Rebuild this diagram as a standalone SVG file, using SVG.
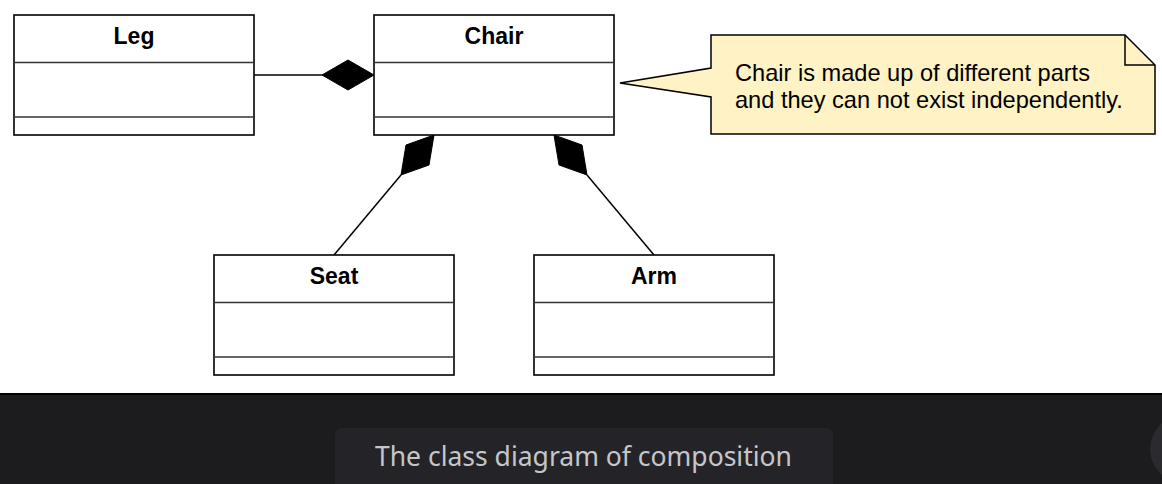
<svg xmlns="http://www.w3.org/2000/svg" width="1162" height="484" viewBox="0 0 1162 484">
<style>
.box{fill:#fff;stroke:#000;stroke-width:1.6}
.div{stroke:#333;stroke-width:1.3}
.title{font-family:"Liberation Sans",Arial,sans-serif;font-weight:bold;font-size:23px;fill:#000;text-anchor:middle}
.note{font-family:"Liberation Sans",Arial,sans-serif;font-size:23.6px;fill:#000}
.conn{stroke:#000;stroke-width:1.5;fill:none}
.dia{fill:#000;stroke:#000;stroke-width:1}
</style>
<rect width="1162" height="484" fill="#fff"/>
<g id="connectors">
<line class="conn" x1="254" y1="75" x2="322" y2="75"/>
<polygon class="dia" points="374,75 348,60 322,75 348,90"/>
<line class="conn" x1="334" y1="255" x2="401" y2="175"/>
<polygon class="dia" points="434,135 406,145 401,175 429,165"/>
<line class="conn" x1="654" y1="255" x2="587" y2="175"/>
<polygon class="dia" points="554,135 582,145 587,175 559,165"/>
</g>
<g id="leg">
<rect class="box" x="14" y="15" width="240" height="120"/>
<line class="div" x1="14" y1="62.5" x2="253" y2="62.5"/>
<line class="div" x1="14" y1="117" x2="253" y2="117"/>
<text class="title" x="134" y="44">Leg</text>
</g>
<g id="chair">
<rect class="box" x="374" y="15" width="240" height="120"/>
<line class="div" x1="374" y1="62.5" x2="613" y2="62.5"/>
<line class="div" x1="374" y1="117" x2="613" y2="117"/>
<text class="title" x="494" y="44">Chair</text>
</g>
<g id="seat">
<rect class="box" x="214" y="255" width="240" height="120"/>
<line class="div" x1="214" y1="302.5" x2="453" y2="302.5"/>
<line class="div" x1="214" y1="357" x2="453" y2="357"/>
<text class="title" x="334" y="284">Seat</text>
</g>
<g id="arm">
<rect class="box" x="534" y="255" width="240" height="120"/>
<line class="div" x1="534" y1="302.5" x2="773" y2="302.5"/>
<line class="div" x1="534" y1="357" x2="773" y2="357"/>
<text class="title" x="654" y="284">Arm</text>
</g>
<g id="note">
<path d="M711,35 H1125 L1155,65 V134 H711 V97 L620,83 L711,68 Z" fill="#fff2c4" stroke="#000" stroke-width="1.5"/>
<path d="M1125,35 V65 H1155" fill="none" stroke="#000" stroke-width="1.5"/>
<text class="note" x="735" y="81">Chair is made up of different parts</text>
<text class="note" x="735" y="108">and they can not exist independently.</text>
</g>
<g id="caption-bar">
<rect x="0" y="394" width="1162" height="90" fill="#1c1c1e"/>
<line x1="0" y1="394" x2="1162" y2="394" stroke="#000" stroke-width="2"/>
<rect x="335" y="428" width="498" height="70" rx="7" fill="#242428"/>
<text x="375" y="466" font-family="'Noto Sans','Open Sans',sans-serif" font-size="27" fill="#c6c6c8" textLength="417" lengthAdjust="spacingAndGlyphs">The class diagram of composition</text>
<circle cx="1184" cy="449" r="34" fill="#2a2a2f"/>
</g>
</svg>
